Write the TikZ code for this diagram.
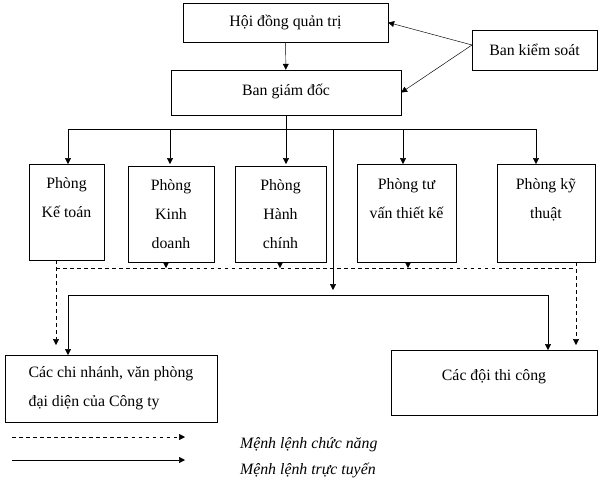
\documentclass[tikz,border=0pt]{standalone}
\usepackage{fontspec}
\setmainfont{Liberation Serif}
\usetikzlibrary{arrows.meta}
\begin{document}
\begin{tikzpicture}[x=0.03cm, y=-0.03cm,
    box/.style={draw, inner sep=0pt, align=center, font=\fontsize{13.5}{25}\selectfont},
    line/.style={-{Triangle[length=5pt,width=5pt]}},
    func/.style={line, dashed}]
    \useasboundingbox (0,0) rectangle (602,491);
    % top
    \node[box, minimum width=205*0.03cm, minimum height=39*0.03cm] (hd) at (285.5,22.5) {Hội đồng quản trị};
    \node[box, minimum width=125*0.03cm, minimum height=40*0.03cm] (bks) at (534.5,50) {Ban kiểm soát};
    \node[box, minimum width=230*0.03cm, minimum height=45*0.03cm] (bgd) at (286,92.5) {\raisebox{5pt}{Ban giám đốc}};
    % departments
    \node[box, minimum width=75*0.03cm, minimum height=96*0.03cm, anchor=north] (kt) at (66.5,164) {Phòng\\Kế toán\\\phantom{x}};
    \node[box, minimum width=86*0.03cm, minimum height=96*0.03cm, anchor=north] (kd) at (171,166) {Phòng\\Kinh\\doanh};
    \node[box, minimum width=91*0.03cm, minimum height=96*0.03cm, anchor=north] (hc) at (280.5,166) {Phòng\\Hành\\chính};
    \node[box, minimum width=99*0.03cm, minimum height=98*0.03cm, anchor=north] (tv) at (406.5,164) {Phòng tư\\vấn thiết kế\\\phantom{x}};
    \node[box, minimum width=98*0.03cm, minimum height=98*0.03cm, anchor=north] (kth) at (546,164) {Phòng kỹ\\thuật\\\phantom{x}};
    % bottom
    \node[box, minimum width=212*0.03cm, minimum height=67*0.03cm, align=left] (cn) at (111,388.5) {Các chi nhánh, văn phòng\\đại diện của Công ty};
    \node[box, minimum width=206*0.03cm, minimum height=65*0.03cm] (dtc) at (494,382.5) {\raisebox{12pt}{Các đội thi công}};

    \coordinate (b1) at (472,45);
    \draw[line] (b1) -- (hd.east);
    \draw[line] (b1) -- (bgd.east);
    \draw[line] (hd) -- (bgd);

    \coordinate (h1) at (68,129);
    \coordinate (h2) at (536,129);
    \draw (bgd.south) -- (286,129);
    \draw (h1) -- (h2);
    \foreach \x/\n in {68/kt,170/kd,286/hc,403/tv,536/kth}
        \draw[line] (\x,129) -- (\x,164);
    \draw[line] (333,129) -- (333,290);

    \coordinate (s1) at (68,295);
    \coordinate (s2) at (548,295);
    \draw (s1) -- (s2);
    \draw[line] (s1) -- (68,355);
    \draw[line] (s2) -- (548,350);

    \coordinate (d1) at (56,268);
    \coordinate (d2) at (576,268);
    \draw[dashed] (d1) -- (d2);
    \draw[func] (56,260) -- (56,345);
    \draw[func] (576,262) -- (576,345);
    \foreach \x in {166,280,408}
        \draw[func] (\x,262) -- (\x,268);

    % legend
    \draw[func] (12,437) -- (185,437);
    \draw[line] (12,460) -- (185,460);
    \node[font=\fontsize{13.5}{14}\selectfont\itshape, anchor=west] (l1) at (236,445) {Mệnh lệnh chức năng};
    \node[font=\fontsize{13.5}{14}\selectfont\itshape, anchor=west] (l2) at (236,470) {Mệnh lệnh trực tuyến};
\end{tikzpicture}
\end{document}
